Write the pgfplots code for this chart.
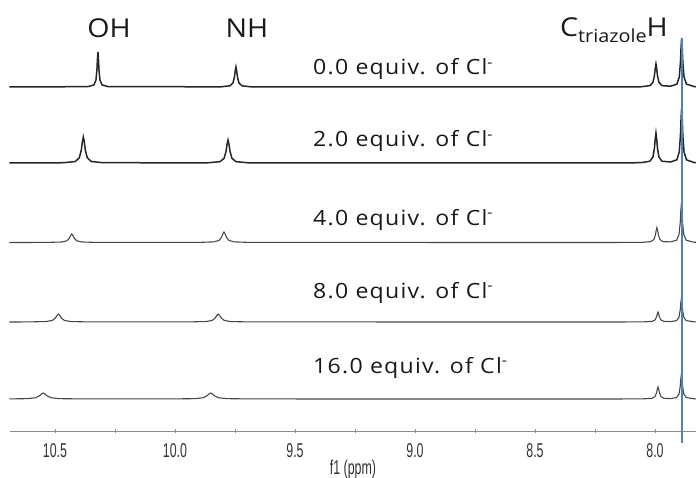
\documentclass[border=0pt]{standalone}
\usepackage{pgfplots}
\usepackage{pgfplotstable}
\pgfplotsset{compat=1.18}
\usepackage{fontspec}
\setmainfont{Open Sans}
\newfontfamily\labfont{Open Sans}[FakeStretch=1.1]
\newfontfamily\eqfont{Open Sans}[FakeStretch=1.1, LetterSpace=6]
\newfontfamily\tickfont{Liberation Sans}[FakeStretch=0.62]

\definecolor{refblue}{RGB}{79,129,189}

% 1H NMR spectra (intensity above each trace's own baseline)
\pgfplotstableread{
ppm I
7.820 0
7.839 0.5
7.869 2.9
7.879 9.8
7.884 24.5
7.8865 39.2
7.889 49
7.8915 39.2
7.894 24.5
7.899 9.8
7.909 2.9
7.935 0.8
7.971 1.35
7.9835 4.6
7.9898 11.5
7.9929 18.4
7.996 23
7.9991 18.4
8.0023 11.5
8.0085 4.6
8.021 1.35
8.060 0.2
8.200 0
9.684 0.2
9.721 1.2
9.7335 4
9.7398 10
9.7429 16
9.746 20
9.7491 16
9.7523 10
9.7585 4
9.771 1.2
9.808 0.2
10.279 0.35
10.3043 2.1
10.3127 7
10.3168 17.5
10.3189 28
10.321 35
10.3231 28
10.3252 17.5
10.3293 7
10.3377 2.1
10.363 0.35
10.69 0
}\specA

\pgfplotstableread{
ppm I
7.820 0
7.839 0.55
7.869 3.2
7.879 11
7.884 27.5
7.8865 44
7.889 55
7.8915 44
7.894 27.5
7.899 11
7.909 3.2
7.935 1.0
7.971 1.8
7.9835 6
7.9898 15
7.9929 24
7.996 30
7.9991 24
8.0023 15
8.0085 6
8.021 1.8
8.058 0.3
8.200 0
9.696 0.23
9.7457 1.35
9.7623 4.6
9.7707 11.5
9.7748 18.4
9.779 23
9.7832 18.4
9.7873 11.5
9.7957 4.6
9.8123 1.35
9.862 0.23
10.299 0.26
10.3487 1.5
10.3653 5.2
10.3737 13
10.3778 20.8
10.382 26
10.3862 20.8
10.3903 13
10.3987 5.2
10.4153 1.5
10.465 0.26
10.69 0
}\specB

\pgfplotstableread{
ppm I
7.820 0
7.840 0.4
7.870 2.3
7.880 7.8
7.885 19.5
7.8875 31.2
7.890 39
7.8925 31.2
7.895 19.5
7.900 7.8
7.910 2.3
7.935 0.6
7.967 0.9
7.9795 3
7.9858 7.5
7.9889 12
7.992 15
7.9951 12
7.9983 7.5
8.0045 3
8.017 0.9
8.054 0.15
8.200 0
9.692 0.1
9.7543 0.62
9.7752 2.1
9.7856 5.25
9.7908 8.4
9.796 10.5
9.8012 8.4
9.8064 5.25
9.8168 2.1
9.8377 0.62
9.900 0.1
10.326 0.08
10.3883 0.5
10.4092 1.7
10.4196 4.25
10.4248 6.8
10.430 8.5
10.4352 6.8
10.4404 4.25
10.4508 1.7
10.4717 0.5
10.534 0.08
10.69 0
}\specC

\pgfplotstableread{
ppm I
7.820 0
7.840 0.24
7.870 1.4
7.880 4.8
7.885 12
7.8875 19.2
7.890 24
7.8925 19.2
7.895 12
7.900 4.8
7.910 1.4
7.935 0.4
7.9625 0.6
7.975 2
7.9813 5
7.9844 8
7.9875 10
7.9906 8
7.9938 5
8.000 2
8.0125 0.6
8.050 0.1
8.200 0
9.695 0.08
9.770 0.47
9.795 1.6
9.8075 4
9.8137 6.4
9.820 8
9.8263 6.4
9.8325 4
9.845 1.6
9.870 0.47
9.945 0.08
10.361 0.08
10.436 0.47
10.461 1.6
10.4735 4
10.4797 6.4
10.486 8
10.4923 6.4
10.4985 4
10.511 1.6
10.536 0.47
10.611 0.08
10.69 0
}\specD

\pgfplotstableread{
ppm I
7.820 0
7.840 0.25
7.870 1.5
7.880 5
7.885 12.5
7.8875 20
7.890 25
7.8925 20
7.895 12.5
7.900 5
7.910 1.5
7.935 0.4
7.9625 0.7
7.975 2.4
7.9813 6
7.9844 9.6
7.9875 12
7.9906 9.6
7.9938 6
8.000 2.4
8.0125 0.7
8.050 0.12
8.200 0
9.684 0.06
9.7843 0.35
9.8177 1.2
9.8343 3
9.8427 4.8
9.851 6
9.8593 4.8
9.8677 3
9.8843 1.2
9.9177 0.35
10.018 0.06
10.382 0.06
10.4823 0.35
10.5157 1.2
10.5323 3
10.5407 4.8
10.549 6
10.5573 4.8
10.5657 3
10.5823 1.2
10.6157 0.35
10.69 0.1
}\specE

\begin{document}
\begin{tikzpicture}[
  eqlabel/.style={font=\eqfont\fontsize{21}{21}\selectfont, text=black!90, anchor=base west, inner sep=0pt},
  peaklabel/.style={font=\labfont\fontsize{26}{26}\selectfont, text=black!90},
]
\begin{axis}[
  name=ax,
  scale only axis,
  width=686pt, height=431pt,
  x dir=reverse,
  xmin=7.8292, xmax=10.6875,
  ymin=0, ymax=431,
  axis x line*=bottom,
  axis y line=none,
  ytick=\empty,
  clip=false,
  xtick={8,8.5,9,9.5,10,10.5},
  xticklabels={8.0,8.5,9.0,9.5,10.0,10.5},
  minor xtick={8.25,8.75,9.25,9.75,10.25},
  tick align=center,
  major tick length=4pt,
  minor tick length=4pt,
  every tick/.style={black!45, line width=0.8pt},
  x axis line style={black!45, line width=0.9pt},
  xticklabel style={font=\tickfont\fontsize{20}{20}\selectfont, text=black!80, yshift=-7pt},
  xlabel={f1 (ppm)},
  xlabel style={font=\tickfont\fontsize{20}{20}\selectfont, text=black!80,
    at={(axis description cs:0.5,0)}, anchor=center, yshift=-38pt},
]
  % stacked traces, offset by their baselines
  \addplot[black!85, line width=1.5pt] table[x=ppm, y expr=\thisrow{I}+344] {\specA};
  \addplot[black!85, line width=1.5pt] table[x=ppm, y expr=\thisrow{I}+268] {\specB};
  \addplot[black!72, line width=1.1pt] table[x=ppm, y expr=\thisrow{I}+188.5] {\specC};
  \addplot[black!72, line width=1.1pt] table[x=ppm, y expr=\thisrow{I}+109] {\specD};
  \addplot[black!72, line width=1.1pt] table[x=ppm, y expr=\thisrow{I}+32] {\specE};
  % reference marker through the strongest aromatic signal
  \addplot[refblue, line width=1.4pt] coordinates {(7.8875,-12) (7.8875,393)};

  % signal assignments
  \node[peaklabel, anchor=base] at (axis cs:10.275,393) {OH};
  \node[peaklabel, anchor=base] at (axis cs:9.70,393) {NH};
  \node[peaklabel, anchor=base west, inner sep=0pt] at (axis cs:8.396,394)
    {C\raisebox{-0.22em}{\fontsize{18}{18}\selectfont triazole}H};

  % titration steps
  \node[eqlabel] at (axis cs:9.425,356) {0.0 equiv. of Cl\textsuperscript{-}};
  \node[eqlabel] at (axis cs:9.425,284) {2.0 equiv. of Cl\textsuperscript{-}};
  \node[eqlabel] at (axis cs:9.425,206) {4.0 equiv. of Cl\textsuperscript{-}};
  \node[eqlabel] at (axis cs:9.425,133) {8.0 equiv. of Cl\textsuperscript{-}};
  \node[eqlabel] at (axis cs:9.425,58) {16.0 equiv. of Cl\textsuperscript{-}};
\end{axis}
\pgfresetboundingbox
\path[use as bounding box] ([xshift=-10pt,yshift=-46pt]ax.south west) rectangle (ax.north east);
\end{tikzpicture}
\end{document}
